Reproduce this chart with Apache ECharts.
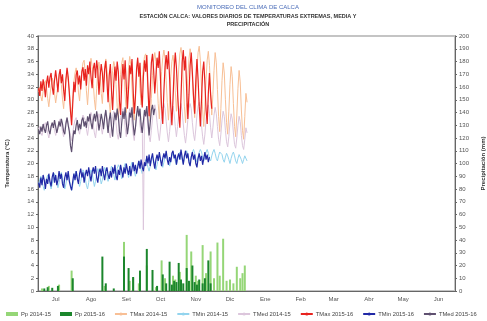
<!DOCTYPE html>
<html>
<head>
<meta charset="utf-8">
<script src="https://cdn.jsdelivr.net/npm/echarts@6/dist/echarts.min.js"></script>
<style>
  html, body { margin: 0; padding: 0; background: #fff; }
  #chart { width: 487px; height: 321px; }
</style>
</head>
<body>
<div id="chart"></div>
<script>
// Season axis: July to June, one category per day ("MM-DD")
const monthNames = ['Jul', 'Ago', 'Set', 'Oct', 'Nov', 'Dic', 'Ene', 'Feb', 'Mar', 'Abr', 'May', 'Jun'];
const monthNumbers = ['07', '08', '09', '10', '11', '12', '01', '02', '03', '04', '05', '06'];
const monthLengths = [31, 31, 30, 31, 30, 31, 31, 29, 31, 30, 31, 30];

const tempTicks = { min: 0, max: 40, step: 2 };
const rainTicks = { min: 0, max: 200, step: 10 };

// Daily maximum temperature (°C)
const tmaxPrev = [
  31.2, 32.0, 30.5, 29.8, 31.4, 32.6, 33.0, 31.8, 30.2, 28.9, 30.6, 32.2, 33.4, 32.8, 31.0, 29.5, 30.8, 32.5, 33.6, 34.0, 32.4, 30.1, 28.6, 31.0, 33.2, 34.1, 33.0, 31.5, 29.0, 27.4, 30.2,
  32.8, 34.2, 35.0, 33.6, 31.2, 29.8, 32.4, 34.6, 35.8, 36.2, 34.0, 31.4, 29.2, 32.0, 34.8, 36.5, 35.2, 32.6, 30.0, 28.4, 31.8, 34.6, 35.9, 34.2, 31.0, 29.4, 32.6, 35.0, 36.4, 34.8, 32.2,
  29.6, 27.8, 31.4, 34.6, 36.0, 35.2, 32.4, 29.0, 27.2, 30.8, 34.0, 35.8, 36.6, 34.2, 30.6, 28.0, 31.6, 35.0, 36.8, 35.4, 32.0, 28.6, 26.8, 30.4, 34.2, 36.0, 35.0, 31.8, 29.2, 32.6,
  35.4, 36.8, 37.2, 35.0, 31.6, 28.4, 26.6, 30.2, 33.8, 36.2, 37.4, 36.0, 32.8, 29.4, 27.0, 30.6, 34.4, 36.6, 37.8, 36.4, 33.0, 29.6, 26.8, 29.8, 33.6, 36.0, 37.0, 35.2, 31.4, 28.2, 31.0,
  34.8, 37.2, 38.2, 36.6, 32.8, 29.0, 26.4, 29.6, 33.4, 36.4, 38.0, 37.0, 33.4, 29.8, 27.2, 30.4, 34.6, 37.4, 38.4, 36.2, 32.0, 28.4, 25.8, 29.0, 33.2, 36.2, 37.6, 35.4, 31.2, 27.6,
  30.8, 34.6, 37.4, 35.8, 31.6, 27.4, 25.0, 28.6, 33.0, 35.8, 34.2, 30.0, 26.4, 24.6, 28.2, 32.4, 35.2, 33.6, 29.4, 25.8, 24.2, 27.6, 31.8, 34.6, 32.8, 28.4, 25.2, 23.8, 27.4, 31.0, 29.6
];
const tmaxCur = [
  31.8, 30.6, 32.9, 31.4, 33.2, 32.1, 30.4, 32.6, 33.8, 31.9, 33.5, 34.2, 32.0, 30.8, 33.1, 34.6, 33.0, 31.2, 33.9, 34.8, 32.6, 34.0, 31.5, 29.8, 33.2, 35.0, 33.6, 31.0, 28.2, 26.0, 29.4,
  32.8, 31.2, 33.9, 34.6, 32.4, 33.8, 31.6, 34.4, 35.1, 33.0, 34.8, 32.2, 35.4, 34.0, 36.0, 33.6, 31.8, 34.9, 35.8, 33.4, 36.2, 34.6, 30.8, 33.6, 35.6, 34.2, 31.2, 34.8, 36.1, 33.0, 29.6,
  33.8, 35.6, 31.4, 28.4, 32.6, 35.2, 33.0, 36.0, 34.4, 29.8, 27.6, 32.8, 35.6, 33.2, 36.2, 32.0, 28.6, 31.8, 35.4, 34.0, 36.4, 31.6, 27.8, 30.4, 34.8, 36.6, 33.6, 35.8, 31.2, 28.8,
  33.6, 36.2, 34.4, 37.0, 32.0, 27.4, 31.6, 35.8, 37.2, 34.6, 31.0, 33.8, 36.6, 35.0, 37.6, 33.2, 28.8, 26.2, 31.4, 35.2, 37.0, 34.8, 37.6, 33.4, 29.0, 26.0, 30.2, 34.8, 37.4, 35.0, 31.2,
  27.8, 25.6, 30.4, 35.8, 37.8, 34.6, 36.8, 31.4, 27.0, 30.8, 35.4, 37.4, 34.2, 30.6, 27.8, 33.0, 36.4, 33.2, 29.0, 25.8, 30.0, 34.4, 36.0, 32.6, 28.4, 26.2, 31.0, 34.2, 30.8, 28.6
];

// Daily mean temperature (°C)
const tmedPrev = [
  25.4, 25.8, 24.8, 24.4, 25.2, 26.0, 26.4, 25.6, 24.8, 24.0, 24.8, 25.8, 26.4, 26.0, 25.2, 24.4, 25.0, 25.8, 26.6, 27.0, 26.2, 25.0, 24.2, 25.4, 26.6, 27.2, 26.4, 25.4, 24.4, 23.6, 24.8,
  26.0, 26.8, 27.2, 26.4, 25.2, 24.6, 25.8, 27.0, 27.6, 27.8, 26.8, 25.4, 24.4, 25.8, 27.2, 28.0, 27.4, 26.0, 24.8, 24.0, 25.6, 27.0, 27.8, 27.0, 25.6, 24.6, 26.0, 27.4, 28.2, 27.4, 26.0,
  24.8, 24.0, 25.8, 27.4, 28.2, 27.8, 26.4, 24.6, 23.8, 25.4, 27.2, 28.0, 28.6, 27.4, 25.6, 24.2, 25.8, 27.6, 28.6, 28.0, 26.2, 24.6, 23.6, 25.4, 27.4, 28.4, 27.8, 26.0, 24.8, 26.4,
  9.6, 27.8, 28.6, 27.6, 25.8, 24.2, 23.4, 25.2, 27.0, 28.4, 29.2, 28.2, 26.4, 24.8, 23.6, 25.4, 27.4, 28.6, 29.4, 28.6, 26.6, 24.8, 23.4, 25.0, 27.0, 28.4, 29.0, 27.8, 25.8, 24.2, 25.8,
  27.6, 28.8, 29.4, 28.2, 26.2, 24.4, 23.2, 24.8, 26.8, 28.6, 29.4, 28.6, 26.4, 24.6, 23.6, 25.4, 27.6, 29.0, 29.6, 28.4, 26.0, 24.2, 23.0, 24.6, 26.8, 28.6, 29.2, 27.8, 25.6, 24.0,
  25.6, 27.6, 28.8, 27.8, 25.8, 23.8, 22.8, 24.6, 26.8, 28.2, 27.4, 25.2, 23.4, 22.6, 24.2, 26.4, 27.8, 27.0, 24.8, 23.0, 22.4, 24.0, 26.0, 27.4, 26.6, 24.4, 22.8, 22.2, 23.8, 25.6, 24.8
];
const tmedCur = [
  25.2, 24.6, 25.8, 25.0, 26.2, 25.4, 24.8, 26.0, 26.6, 25.2, 24.6, 25.8, 26.4, 25.6, 26.8, 25.8, 24.8, 25.6, 26.6, 25.8, 27.0, 26.2, 25.0, 24.6, 26.2, 27.2, 26.0, 25.0, 22.8, 21.8, 23.8,
  25.2, 24.6, 26.0, 26.8, 25.2, 26.2, 25.4, 26.8, 27.2, 25.8, 26.6, 25.6, 27.4, 26.6, 27.8, 26.4, 25.4, 26.8, 27.8, 26.6, 28.2, 27.0, 25.2, 26.4, 27.8, 26.8, 25.4, 27.2, 28.4, 26.6, 24.8,
  26.8, 28.0, 25.8, 24.2, 26.6, 28.0, 26.8, 28.6, 27.4, 25.0, 24.0, 26.4, 28.2, 27.0, 28.8, 26.4, 24.6, 26.0, 28.0, 27.2, 28.8, 26.2, 24.4, 25.6, 27.6, 29.0, 27.4, 28.6, 26.0, 24.8,
  26.6, 28.4, 27.4, 29.0, 26.8, 24.4, 26.4, 28.4, 29.2, 27.6, 28.6
];

// Daily minimum temperature (°C)
const tminPrev = [
  16.8, 17.4, 18.0, 17.2, 16.4, 15.8, 16.6, 17.6, 18.2, 17.8, 16.8, 16.0, 16.8, 17.8, 18.4, 18.0, 17.0, 16.2, 17.0, 18.0, 18.6, 17.8, 16.8, 16.0, 16.8, 17.8, 18.4, 17.6, 16.6, 15.8, 16.6,
  17.6, 18.4, 18.8, 18.0, 17.0, 16.4, 17.2, 18.2, 19.0, 18.6, 17.6, 16.6, 16.0, 17.0, 18.2, 19.0, 18.6, 17.4, 16.4, 17.2, 18.4, 19.2, 18.8, 17.8, 16.8, 17.4, 18.6, 19.4, 19.0, 18.0, 17.2,
  17.8, 18.8, 19.6, 19.2, 18.2, 17.4, 18.0, 19.2, 19.8, 19.4, 18.4, 17.6, 18.4, 19.4, 20.0, 19.6, 18.6, 17.8, 18.6, 19.6, 20.2, 19.8, 18.8, 18.0, 18.8, 19.8, 20.4, 20.0, 19.0, 18.4,
  19.2, 20.0, 20.6, 20.2, 19.4, 18.8, 19.6, 20.4, 21.0, 20.6, 19.8, 19.0, 19.8, 20.6, 21.2, 20.8, 20.0, 19.4, 20.2, 21.0, 21.4, 21.0, 20.2, 19.6, 20.4, 21.2, 21.6, 21.2, 20.4, 19.8, 20.6,
  21.2, 21.8, 21.4, 20.6, 20.0, 20.8, 21.6, 22.0, 21.4, 20.6, 20.2, 21.0, 21.8, 22.2, 21.6, 20.8, 20.2, 21.0, 21.8, 22.2, 21.8, 21.0, 20.4, 21.0, 21.8, 22.2, 21.6, 20.8, 20.4, 21.2,
  21.8, 22.2, 21.6, 20.8, 20.4, 21.2, 21.8, 22.0, 21.4, 20.6, 20.2, 21.0, 21.6, 21.2, 20.6, 20.0, 20.8, 21.4, 21.8, 21.2, 20.4, 20.0, 20.8, 21.4, 21.2, 20.6, 20.0, 20.6, 21.2, 21.0, 20.4
];
const tminCur = [
  17.0, 16.2, 17.8, 16.6, 18.2, 17.4, 16.0, 17.6, 16.8, 18.4, 17.2, 16.4, 17.9, 18.6, 17.0, 18.2, 16.6, 17.4, 18.8, 17.6, 18.4, 16.8, 16.2, 17.8, 18.6, 17.4, 18.8, 17.2, 16.4, 15.8, 17.2,
  18.4, 17.4, 18.8, 17.6, 16.8, 18.4, 19.2, 17.8, 18.6, 17.0, 18.2, 19.0, 18.0, 19.4, 18.2, 17.2, 18.6, 19.4, 18.4, 19.6, 17.8, 17.0, 18.6, 19.2, 18.0, 19.6, 18.4, 17.4, 18.8, 19.4, 18.2,
  17.6, 18.8, 17.8, 19.4, 18.4, 19.8, 18.0, 17.4, 19.0, 18.2, 19.8, 18.8, 17.8, 19.4, 18.4, 20.0, 19.0, 18.2, 19.6, 18.0, 19.2, 20.2, 18.8, 19.8, 18.4, 19.4, 20.4, 19.2, 20.6, 19.4,
  18.8, 20.2, 19.6, 21.2, 20.0, 21.4, 19.6, 20.8, 21.6, 20.2, 19.2, 20.6, 21.4, 20.4, 21.8, 20.6, 19.6, 20.8, 21.6, 20.8, 22.0, 20.6, 19.8, 21.0, 20.2, 21.6, 22.0, 20.8, 21.4, 19.8, 21.0,
  21.6, 20.6, 22.2, 21.0, 19.8, 21.2, 22.0, 20.8, 21.6, 20.2, 19.6, 21.0, 21.8, 20.6, 21.4, 20.0, 19.4, 20.8, 21.6, 20.4, 21.2, 19.8, 20.8, 21.8, 20.6, 21.4, 20.2, 21.0
];

// Daily precipitation (mm), rainy days only
const ppPrev = [
  ['07-04', 2], ['07-10', 4], ['07-19', 5], ['07-30', 16], ['08-28', 4], ['09-14', 38.5], ['09-19', 8],
  ['09-22', 10], ['09-27', 6], ['10-04', 20], ['10-12', 3], ['10-17', 24], ['10-20', 10], ['10-27', 12],
  ['10-29', 9], ['11-02', 15], ['11-08', 44], ['11-12', 31], ['11-16', 12], ['11-18', 8], ['11-22', 36],
  ['11-25', 14], ['11-29', 31], ['12-02', 10], ['12-05', 38], ['12-07', 12], ['12-10', 41], ['12-13', 8],
  ['12-16', 9], ['12-19', 6], ['12-22', 19], ['12-25', 10], ['12-27', 14], ['12-29', 20]
];
const ppCur = [
  ['07-06', 2], ['07-09', 3], ['07-13', 2.5], ['07-18', 4], ['07-31', 10], ['08-26', 27], ['08-29', 6],
  ['09-05', 2], ['09-14', 27], ['09-18', 18], ['09-22', 11], ['09-28', 16], ['10-04', 33], ['10-09', 16.5],
  ['10-13', 4], ['10-18', 13], ['10-21', 6], ['10-24', 23], ['10-26', 5], ['10-28', 8], ['10-30', 7],
  ['11-01', 22], ['11-03', 9], ['11-05', 6], ['11-08', 18], ['11-10', 8], ['11-13', 20], ['11-15', 7],
  ['11-17', 5], ['11-19', 9], ['11-22', 6], ['11-24', 10], ['11-27', 24], ['11-29', 6]
];

const seriesNames = {
  ppPrev: 'Pp 2014-15', ppCur: 'Pp 2015-16',
  tmaxPrev: 'TMax 2014-15', tminPrev: 'TMin 2014-15', tmedPrev: 'TMed 2014-15',
  tmaxCur: 'TMax 2015-16', tminCur: 'TMin 2015-16', tmedCur: 'TMed 2015-16'
};

// Build the day categories of the season
const days = [];
monthNumbers.forEach((m, i) => {
  for (let d = 1; d <= monthLengths[i]; d++) days.push(m + '-' + String(d).padStart(2, '0'));
});
const nameOfMonth = {};
monthNumbers.forEach((m, i) => { nameOfMonth[m] = monthNames[i]; });

const FONT = 'Liberation Sans, Arial, sans-serif';
const labelFont = { fontFamily: FONT, fontSize: 6, color: '#555' };

function lineSeries(name, data, color, width) {
  return {
    name, type: 'line', data, yAxisIndex: 0,
    symbol: 'none', lineStyle: { color, width: width || 1 }, itemStyle: { color },
    emphasis: { disabled: true }
  };
}

const chart = echarts.init(document.getElementById('chart'), null, { renderer: 'canvas' });
chart.setOption({
  animation: false,
  backgroundColor: '#fff',
  title: {
    text: 'MONITOREO DEL CLIMA DE CALCA',
    subtext: 'ESTACIÓN CALCA: VALORES DIARIOS DE TEMPERATURAS EXTREMAS, MEDIA Y\nPRECIPITACIÓN',
    left: 248, textAlign: 'center', top: 4, itemGap: 2, padding: 0,
    textStyle: { fontFamily: FONT, fontSize: 6, fontWeight: 'normal', color: '#4a6cb8' },
    subtextStyle: { fontFamily: FONT, fontSize: 5.5, color: '#333', lineHeight: 8, fontWeight: 'bold' }
  },
  legend: {
    left: 6, top: 311, width: 481, padding: 0,
    itemWidth: 12, itemHeight: 4, itemGap: 9,
    data: [
      { name: seriesNames.ppPrev, icon: 'rect' }, { name: seriesNames.ppCur, icon: 'rect' },
      seriesNames.tmaxPrev, seriesNames.tminPrev, seriesNames.tmedPrev,
      seriesNames.tmaxCur, seriesNames.tminCur, seriesNames.tmedCur
    ],
    textStyle: { fontFamily: FONT, fontSize: 5.8, color: '#444', padding: [0, 0, 0, -2] }
  },
  grid: {
    left: 38, right: 32, top: 36, bottom: 30,
    outerBoundsMode: 'none',
    show: true, borderColor: '#c4c4c4', borderWidth: 2, backgroundColor: '#fff'
  },
  xAxis: {
    type: 'category', data: days, boundaryGap: true,
    axisLine: { lineStyle: { color: '#666', width: 1 } },
    axisTick: { length: 3, lineStyle: { color: '#666' }, interval: (i, v) => v.slice(3) === '01' },
    axisLabel: Object.assign({}, labelFont, {
      margin: 5,
      interval: (i, v) => v.slice(3) === '16',
      formatter: (v) => nameOfMonth[v.slice(0, 2)]
    }),
    splitLine: { show: false }
  },
  yAxis: [
    {
      type: 'value', min: tempTicks.min, max: tempTicks.max, interval: tempTicks.step,
      name: 'Temperatura (°C)', nameLocation: 'middle', nameGap: 28, nameRotate: 90,
      nameTextStyle: { fontFamily: FONT, fontSize: 6, fontWeight: 'bold', color: '#333' },
      axisLine: { show: true, lineStyle: { color: '#666' } },
      axisTick: { show: true, length: 2, lineStyle: { color: '#666' } },
      axisLabel: Object.assign({}, labelFont, { margin: 4 }),
      splitLine: { show: false }
    },
    {
      type: 'value', min: rainTicks.min, max: rainTicks.max, interval: rainTicks.step,
      name: 'Precipitación (mm)', nameLocation: 'middle', nameGap: 23, nameRotate: 90,
      nameTextStyle: { fontFamily: FONT, fontSize: 6, fontWeight: 'bold', color: '#333' },
      axisLine: { show: true, lineStyle: { color: '#666' } },
      axisTick: { show: true, length: 2, lineStyle: { color: '#666' } },
      axisLabel: Object.assign({}, labelFont, { margin: 4 }),
      splitLine: { show: false }
    }
  ],
  series: [
    { name: seriesNames.ppPrev, type: 'bar', yAxisIndex: 1, data: ppPrev, barWidth: 2, barGap: '-100%',
      itemStyle: { color: '#95d677' }, emphasis: { disabled: true } },
    { name: seriesNames.ppCur, type: 'bar', yAxisIndex: 1, data: ppCur, barWidth: 2, barGap: '-100%',
      itemStyle: { color: '#1b862c' }, emphasis: { disabled: true } },
    lineSeries(seriesNames.tmaxPrev, tmaxPrev, '#f8bf95'),
    lineSeries(seriesNames.tminPrev, tminPrev, '#93d4ee'),
    lineSeries(seriesNames.tmedPrev, tmedPrev, '#dcc6dc'),
    lineSeries(seriesNames.tmaxCur, tmaxCur, '#e8231f', 1.2),
    lineSeries(seriesNames.tminCur, tminCur, '#2129a6', 1.2),
    lineSeries(seriesNames.tmedCur, tmedCur, '#5f5070', 1.2)
  ]
});
</script>
</body>
</html>
